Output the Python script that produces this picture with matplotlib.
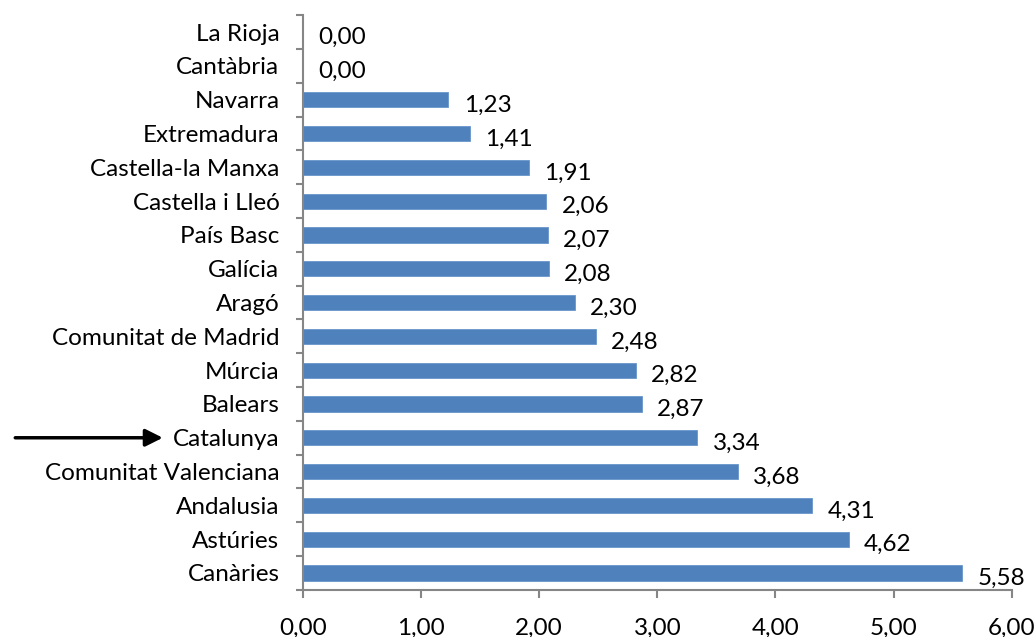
import numpy as np
import matplotlib
matplotlib.use("Agg")
import matplotlib.pyplot as plt

regions = ["Canàries", "Astúries", "Andalusia", "Comunitat Valenciana", "Catalunya",
           "Balears", "Múrcia", "Comunitat de Madrid", "Aragó", "Galícia", "País Basc",
           "Castella i Lleó", "Castella-la Manxa", "Extremadura", "Navarra",
           "Cantàbria", "La Rioja"]
values = [5.58, 4.62, 4.31, 3.68, 3.34, 2.87, 2.82, 2.48, 2.30, 2.08, 2.07,
          2.06, 1.91, 1.41, 1.23, 0.00, 0.00]
xticks = [0, 1, 2, 3, 4, 5, 6]

plt.rcParams['font.family'] = ['Lato', 'DejaVu Sans']
bar_color = "#4F81BD"
axis_color = "#868686"
fs = 17.5


def comma(v):
    return f"{v:.2f}".replace(".", ",")


fig = plt.figure(figsize=(10.36, 6.37), dpi=100)
ax = fig.add_axes([0.2925, 0.074, 0.684, 0.902])

y = np.arange(len(regions))
ax.barh(y, values, height=0.45, color=bar_color, edgecolor="#6A96CC", linewidth=0.6)

for yi, v in zip(y, values):
    ax.annotate(comma(v), (v, yi), xytext=(11, -4), textcoords="offset points",
                ha="left", va="center", fontsize=fs)

ax.set_xlim(0, 6)
ax.set_ylim(-0.5, len(regions) - 0.5)
ax.set_xticks(xticks)
ax.set_xticklabels([comma(t) for t in xticks], fontsize=fs)
ax.set_yticks(y)
ax.set_yticklabels(regions, fontsize=fs)
ax.set_yticks(np.arange(-0.5, len(regions)), minor=True)

ax.tick_params(axis="y", which="major", length=0, pad=17)
ax.tick_params(axis="y", which="minor", length=5, color=axis_color, width=1.5)
ax.tick_params(axis="x", length=6, color=axis_color, width=1.5, pad=14)

for side in ["top", "right"]:
    ax.spines[side].set_visible(False)
for side in ["left", "bottom"]:
    ax.spines[side].set_color(axis_color)
    ax.spines[side].set_linewidth(1.5)

# arrow pointing at Catalunya
cat_y = regions.index("Catalunya")
arr = ax.annotate("", xy=(-0.194, cat_y), xytext=(-0.41, cat_y),
                  xycoords=ax.get_yaxis_transform(), textcoords=ax.get_yaxis_transform(),
                  arrowprops=dict(arrowstyle="-|>", color="black", lw=2.5, mutation_scale=26),
                  annotation_clip=False)
arr.arrow_patch.set_clip_on(False)

fig.savefig("out.png", dpi=100)
